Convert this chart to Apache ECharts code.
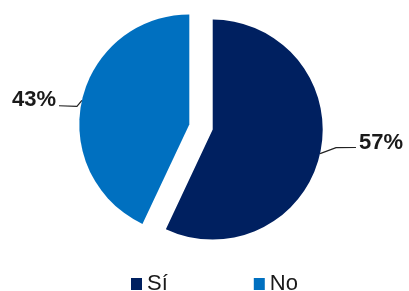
<!DOCTYPE html>
<html>
<head>
<meta charset="utf-8">
<script src="https://cdn.jsdelivr.net/npm/echarts@6/dist/echarts.min.js"></script>
<style>
  html, body { margin: 0; padding: 0; background: #fff; }
  #chart { width: 409px; height: 291px; }
</style>
</head>
<body>
<div id="chart"></div>
<script>
// data
const categories = ['Sí', 'No'];
const values = [57, 43];
const colors = ['#002060', '#0070C0'];

const chart = echarts.init(document.getElementById('chart'), null, { renderer: 'canvas' });

const pieData = categories.map((name, i) => ({
  name: name,
  value: values[i],
  selected: true,
  itemStyle: { color: colors[i] },
  labelLine: i === 0 ? { length: 4, length2: 32 } : { length: 3, length2: 20 }
}));

// bend the leader lines a little, like the original
function bendLabel(params) {
  const pts = params.labelLinePoints;
  if (!pts) return {};
  if (params.dataIndex === 0) {
    return {
      dy: -12,
      labelLinePoints: [pts[0], [pts[0][0] + 16, pts[0][1] - 6], [pts[2][0], pts[2][1] - 7]]
    };
  }
  return {
    dy: 0,
    labelLinePoints: [pts[0], [pts[0][0] - 5, pts[0][1] + 6], [pts[2][0], pts[2][1] + 6]]
  };
}

chart.setOption({
  animation: false,
  legend: {
    data: categories,
    left: 126,
    top: 268,
    icon: 'rect',
    itemWidth: 11,
    itemHeight: 12,
    itemGap: 86,
    textStyle: {
      fontFamily: 'Liberation Sans',
      fontSize: 22,
      color: '#1a1a1a'
    }
  },
  series: [
    {
      type: 'pie',
      center: [201, 127],
      radius: 110,
      startAngle: 90,
      clockwise: true,
      selectedMode: 'multiple',
      selectedOffset: 12,
      label: {
        show: true,
        formatter: '{c}%',
        fontFamily: 'Liberation Sans',
        fontWeight: 'bold',
        fontSize: 22,
        color: '#1a1a1a',
        distanceToLabelLine: 3
      },
      labelLine: {
        show: true,
        smooth: false,
        lineStyle: { color: '#222', width: 1.2 }
      },
      labelLayout: bendLabel,
      select: {
        itemStyle: { borderWidth: 0 },
        label: { color: '#1a1a1a' }
      },
      emphasis: { disabled: true },
      data: pieData
    }
  ]
});
</script>
</body>
</html>
